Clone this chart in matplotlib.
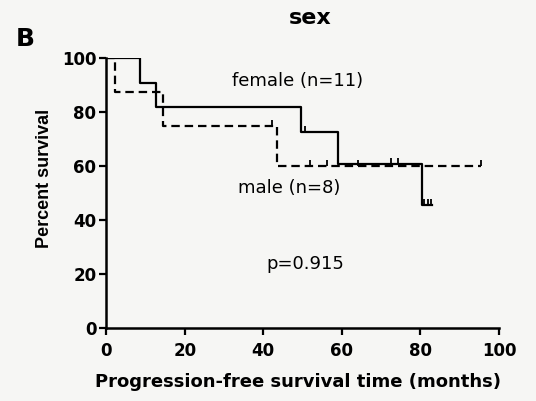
import matplotlib
matplotlib.use("Agg")
import matplotlib.pyplot as plt

plt.rcParams["font.family"] = ["DejaVu Sans"]

# step curves: (time, level) pairs, level holds until the next time
female_t = [0, 8.6, 12.8, 49.5, 59.0, 80.5, 83.0]
female_s = [100, 90.9, 81.8, 72.7, 60.6, 45.5, 45.5]
female_cens_t = [50.5, 72.5, 74.2, 81.0, 81.8, 82.6]
female_cens_s = [72.7, 60.6, 60.6, 45.5, 45.5, 45.5]

male_t = [0, 2.3, 14.5, 43.5, 95.5]
male_s = [100, 87.5, 75.0, 60.0, 60.0]
male_cens_t = [42.3, 51.8, 56.3, 64.0, 95.5]
male_cens_s = [75.0, 60.0, 60.0, 60.0, 60.0]

ticks = [0, 20, 40, 60, 80, 100]
bg = "#f6f6f4"

fig = plt.figure(figsize=(5.36, 4.01), dpi=100, facecolor=bg)
ax = fig.add_axes([0.198, 0.182, 0.733, 0.673], facecolor=bg)

ax.step(female_t, female_s, where="post", color="black", lw=1.6)
ax.step(male_t, male_s, where="post", color="black", lw=1.6,
        linestyle=(0, (3.8, 2.2)))

# censor marks: short upward ticks
ax.plot(female_cens_t, female_cens_s, linestyle="none", marker=2,
        markersize=4, markeredgewidth=1.3, color="black")
ax.plot(male_cens_t, male_cens_s, linestyle="none", marker=2,
        markersize=4, markeredgewidth=1.3, color="black")

ax.set_xlim(0, 100)
ax.set_ylim(0, 100)
ax.set_xticks(ticks)
ax.set_yticks(ticks)
for sp in ["top", "right"]:
    ax.spines[sp].set_visible(False)
for sp in ["left", "bottom"]:
    ax.spines[sp].set_linewidth(1.8)
ax.tick_params(direction="out", length=5, width=1.6, labelsize=12, pad=2)
ax.tick_params(axis="x", pad=5)
for lab in ax.get_xticklabels() + ax.get_yticklabels():
    lab.set_fontweight("bold")

ax.set_xlabel("Progression-free survival time (months)", fontsize=13,
              fontweight="bold")
ax.set_ylabel("Percent survival", fontsize=13, fontweight="bold",
              family=["Liberation Sans"])
ax.xaxis.set_label_coords(0.489, -0.165)
ax.yaxis.set_label_coords(-0.135, 0.556)

ax.text(32.0, 91.5, "female (n=11)", fontsize=13, va="center")
ax.text(33.5, 51.8, "male (n=8)", fontsize=13, va="center")
ax.text(50.6, 23.7, "p=0.915", fontsize=13, ha="center", va="center")

fig.text(0.578, 0.955, "sex", fontsize=16, fontweight="bold",
         ha="center", va="center")
fig.text(0.047, 0.903, "B", fontsize=18, fontweight="bold",
         ha="center", va="center")

fig.savefig("out.png", dpi=100, facecolor=bg)
